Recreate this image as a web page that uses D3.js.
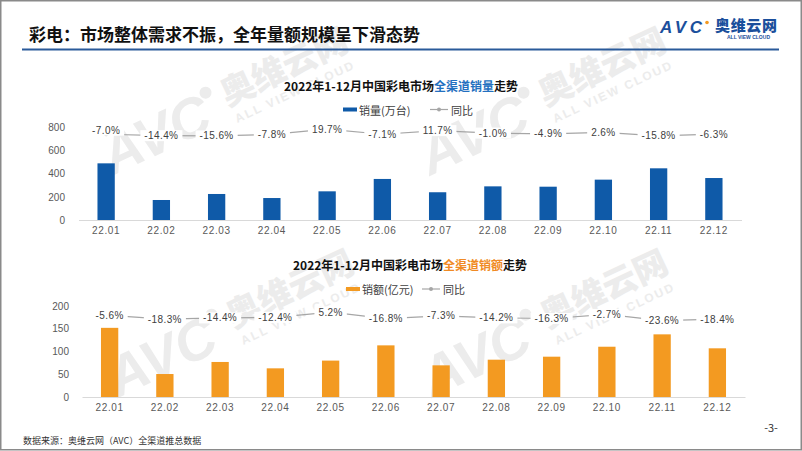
<!DOCTYPE html>
<html>
<head>
<meta charset="utf-8">
<script src="https://cdn.jsdelivr.net/npm/d3@7/dist/d3.min.js"></script>
<style>
  html, body { margin: 0; padding: 0; background: #fff; }
  svg { display: block; font-family: "Noto Sans CJK SC", "Noto Sans", sans-serif; }
</style>
</head>
<body>
<svg id="chart" width="802" height="451"></svg>
<script>
// ---------- data ----------
const months = ["22.01","22.02","22.03","22.04","22.05","22.06","22.07","22.08","22.09","22.10","22.11","22.12"];
const salesVolume = [490, 173, 225, 190, 248, 355, 240, 291, 288, 349, 447, 363];        // 万台
const volumeYoY   = [-7.0, -14.4, -15.6, -7.8, 19.7, -7.1, 11.7, -1.0, -4.9, 2.6, -15.8, -6.3]; // %
const salesValue  = [152, 50.5, 77, 63, 80, 113.5, 69.6, 82, 88.6, 110.5, 137.7, 107];   // 亿元
const valueYoY    = [-5.6, -18.3, -14.4, -12.4, 5.2, -16.8, -7.3, -14.2, -16.3, -2.7, -23.6, -18.4]; // %
const volumeTicks = [0, 200, 400, 600, 800];
const valueTicks  = [0, 50, 100, 150, 200];

const svg = d3.select("#chart");
const BLUE = "#0f5aa8", ORANGE = "#f39a21", GRAY_LINE = "#a6a6a6";

// ---------- watermarks (behind) ----------
function watermark(x, y) {
  const g = svg.append("g").attr("transform", `translate(${x},${y}) rotate(-25)`)
    .attr("fill", "#ececec");
  g.append("text").attr("x", 0).attr("y", 0).attr("font-size", 56).attr("font-weight", 900)
    .attr("font-style", "italic").attr("font-family", "Liberation Sans, sans-serif").text("AVC");
  g.append("circle").attr("cx", 120).attr("cy", -36).attr("r", 6);
  g.append("text").attr("x", 134).attr("y", -14).attr("font-size", 34).attr("font-weight", 900).text("奥维云网");
  g.append("text").attr("x", 136).attr("y", 5).attr("font-size", 12).attr("font-weight", 700)
    .attr("font-family", "Liberation Sans, sans-serif").attr("letter-spacing", 2).text("ALL VIEW CLOUD");
}
watermark(112, 176);
watermark(430, 176);
watermark(118, 398);
watermark(432, 398);

// ---------- frame ----------
svg.append("rect").attr("x", 0.75).attr("y", 0.75).attr("width", 800.5).attr("height", 449)
  .attr("fill", "none").attr("stroke", "#8a8a8a").attr("stroke-width", 1.5);

// ---------- header ----------
svg.append("text").attr("x", 29).attr("y", 33).attr("dominant-baseline", "central")
  .attr("font-size", 17).attr("font-weight", 700).attr("fill", "#111")
  .text("彩电：市场整体需求不振，全年量额规模呈下滑态势");
svg.append("line").attr("x1", 22).attr("x2", 779).attr("y1", 49.5).attr("y2", 49.5)
  .attr("stroke", "#2a5a9a").attr("stroke-width", 2);

// logo
const logo = svg.append("g");
logo.append("text").attr("x", 660).attr("y", 33).attr("font-size", 17).attr("font-weight", 900)
  .attr("font-style", "italic").attr("font-family", "Liberation Sans, sans-serif")
  .attr("fill", "#1b4f9c").attr("textLength", 42).text("AVC");
logo.append("circle").attr("cx", 707).attr("cy", 22.5).attr("r", 1.8).attr("fill", "#f39a21");
logo.append("text").attr("x", 715).attr("y", 31).attr("font-size", 15).attr("font-weight", 900)
  .attr("fill", "#1b4f9c").attr("textLength", 62).text("奥维云网");
logo.append("text").attr("x", 727).attr("y", 38.5).attr("font-size", 5).attr("font-weight", 700)
  .attr("font-family", "Liberation Sans, sans-serif").attr("fill", "#1b4f9c")
  .attr("textLength", 43).text("ALL VIEW CLOUD");

// ---------- chart builder ----------
function drawChart(cfg) {
  const g = svg.append("g");
  const x = d3.scaleBand().domain(months).range(cfg.xRange).paddingInner(0.687).paddingOuter(0.3435);
  const y = d3.scaleLinear().domain([0, cfg.ticks[cfg.ticks.length - 1]]).range(cfg.yRange);
  const y2 = d3.scaleLinear().domain(cfg.yoyDomain).range(cfg.yoyRange);

  // title
  const t = g.append("text").attr("x", cfg.titleX).attr("y", cfg.titleY).attr("text-anchor", "middle")
    .attr("dominant-baseline", "central").attr("font-size", 12).attr("font-weight", 700).attr("fill", "#111");
  t.append("tspan").text("2022年1-12月中国彩电市场");
  t.append("tspan").attr("fill", cfg.hlColor).text(cfg.hlText);
  t.append("tspan").text("走势");

  // legend
  const lg = g.append("g").attr("transform", `translate(${cfg.legendX},${cfg.legendY})`);
  lg.append("rect").attr("x", 0).attr("y", -2).attr("width", 14).attr("height", 4).attr("fill", cfg.color);
  lg.append("text").attr("x", 16).attr("y", 0).attr("dominant-baseline", "central")
    .attr("font-size", 11).attr("fill", "#404040").text(cfg.legendText);
  lg.append("line").attr("x1", cfg.legendLineX).attr("x2", cfg.legendLineX + 18).attr("y1", 0).attr("y2", 0)
    .attr("stroke", GRAY_LINE).attr("stroke-width", 1.2);
  lg.append("circle").attr("cx", cfg.legendLineX + 9).attr("cy", 0).attr("r", 2).attr("fill", GRAY_LINE);
  lg.append("text").attr("x", cfg.legendLineX + 21).attr("y", 0).attr("dominant-baseline", "central")
    .attr("font-size", 11).attr("fill", "#404040").text("同比");

  // y axis
  const ya = g.append("g").attr("transform", `translate(${cfg.yAxisX},0)`)
    .call(d3.axisLeft(y).tickValues(cfg.ticks).tickSize(0).tickPadding(3));
  ya.select(".domain").remove();
  ya.selectAll("text").attr("font-size", 10).attr("fill", "#595959")
    .attr("font-family", "Liberation Sans, sans-serif");

  // bars
  g.append("g").selectAll("rect").data(cfg.values).join("rect")
    .attr("x", (d, i) => x(months[i])).attr("width", x.bandwidth())
    .attr("y", d => y(d)).attr("height", d => y(0) - y(d)).attr("fill", cfg.color);

  // x axis
  const xa = g.append("g").attr("transform", `translate(0,${y(0)})`)
    .call(d3.axisBottom(x).tickSize(0).tickSizeOuter(0).tickPadding(7));
  xa.select(".domain").attr("stroke", "#d9d9d9");
  xa.selectAll("text").attr("font-size", 10).attr("fill", "#595959").attr("letter-spacing", 0.6)
    .attr("font-family", "Liberation Sans, sans-serif");

  // yoy line
  const cx = (d, i) => x(months[i]) + x.bandwidth() / 2;
  g.append("path").datum(cfg.yoy)
    .attr("d", d3.line().x(cx).y(d => y2(d)))
    .attr("fill", "none").attr("stroke", GRAY_LINE).attr("stroke-width", 1.2);
  g.append("g").selectAll("circle").data(cfg.yoy).join("circle")
    .attr("cx", cx).attr("cy", d => y2(d)).attr("r", 2).attr("fill", GRAY_LINE);

  // labels with white background
  const lab = g.append("g").selectAll("g").data(cfg.yoy).join("g")
    .attr("transform", (d, i) => `translate(${cx(d, i)},${y2(d) + (i === 0 ? cfg.firstDy : 0)})`);
  const txt = lab.append("text").attr("text-anchor", "middle").attr("dominant-baseline", "central")
    .attr("font-size", 10).attr("fill", "#404040").attr("letter-spacing", 0.4)
    .attr("font-family", "Liberation Sans, sans-serif")
    .text(d => d.toFixed(1) + "%");
  txt.each(function () {
    const b = this.getBBox();
    d3.select(this.parentNode).insert("rect", "text")
      .attr("x", b.x - 4).attr("y", b.y).attr("width", b.width + 8).attr("height", b.height).attr("fill", "#fff");
  });
}

drawChart({
  values: salesVolume, yoy: volumeYoY, ticks: volumeTicks, color: BLUE,
  xRange: [78.5, 741.5], yRange: [220, 127.5], yAxisX: 68,
  yoyDomain: [-16, 20], yoyRange: [136, 129], firstDy: -4,
  titleX: 401, titleY: 85, hlText: "全渠道销量", hlColor: "#2370c0",
  legendX: 343, legendY: 109.5, legendText: "销量(万台)", legendLineX: 87
});
drawChart({
  values: salesValue, yoy: valueYoY, ticks: valueTicks, color: ORANGE,
  xRange: [82, 745], yRange: [397, 306], yAxisX: 72,
  yoyDomain: [-24, 6], yoyRange: [320.8, 311.8], firstDy: 0,
  titleX: 410, titleY: 263.5, hlText: "全渠道销额", hlColor: "#f08a24",
  legendX: 346, legendY: 289, legendText: "销额(亿元)", legendLineX: 76
});

// ---------- footer ----------
svg.append("text").attr("x", 23).attr("y", 440).attr("dominant-baseline", "central")
  .attr("font-size", 9).attr("fill", "#333").text("数据来源：奥维云网（AVC）全渠道推总数据");
svg.append("text").attr("x", 771).attr("y", 427).attr("text-anchor", "middle").attr("dominant-baseline", "central")
  .attr("font-size", 11).attr("fill", "#333").text("-3-");
</script>
</body>
</html>
